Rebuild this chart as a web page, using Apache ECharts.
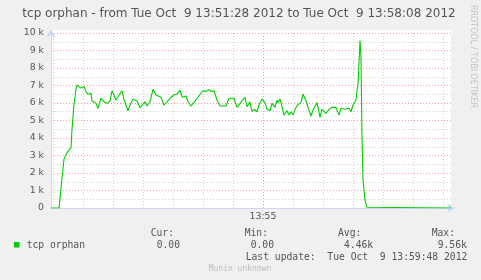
<!DOCTYPE html>
<html><head><meta charset="utf-8">
<script src="https://cdn.jsdelivr.net/npm/echarts@6/dist/echarts.min.js"></script>
<style>html,body{margin:0;padding:0;background:#F0F0F0;}#c{width:481px;height:280px;}</style>
</head><body><div id="c"></div>
<script>
// seconds after 13:51:28 (start of the graph window)
const secondsFromStart = [0,8,11,13,15,17,19,20,21,23,25,26,28,30,33,35,37,40,41,45,47,50,53,56,59,61,65,67,71,73,77,79,82,86,89,91,94,96,99,102,105,107,110,113,116,120,123,126,129,131,135,137,140,143,146,152,155,158,160,163,166,169,175,178,183,186,188,191,194,196,199,201,203,206,208,211,214,216,219,221,224,226,227,229,231,233,236,238,240,242,245,247,250,252,255,257,260,262,266,269,271,275,278,281,285,288,290,294,298,300,302,305,306,307,309,310,311,312,314,316,318,400];
const tcpOrphan = [0,0,1700,2800,3050,3240,3280,3450,4500,5900,6800,7020,6950,6850,6950,6650,6500,6550,6130,5980,5700,6270,6070,5980,6110,6700,6170,6360,6700,6210,5560,5880,6210,6110,5730,5880,6070,5830,6070,6780,6460,6550,6330,5880,6070,6330,6460,6510,6740,6330,6400,6070,5830,6030,6270,6700,6650,6780,6650,6700,6170,5830,5830,6270,6270,5750,5890,6130,6320,5790,6070,5500,5640,5500,5890,6230,6020,5640,5560,5980,5750,6170,6020,6230,5790,5310,5560,5310,5500,5310,5750,5890,6020,6510,6130,5750,5260,5600,6020,5180,5640,5410,5640,5750,5750,5310,5700,5640,5700,5500,5890,6170,6740,7030,9560,8650,4070,1600,460,40,0,0];
const yTicks = [0,1000,2000,3000,4000,5000,6000,7000,8000,9000,10000];
const xMinorTicks = [30,60,90,120,150,180,210,240,270,300,330,360,390,420]; // seconds after 13:51:00
const xMajorTicks = [240];
const xMajorLabels = ['13:55'];
const legendName = 'tcp orphan';
const statHeaders = ['Cur:','Min:','Avg:','Max:'];
const statValues = ['0.00','0.00','4.46k','9.56k'];
const titleText = 'tcp orphan - from Tue Oct  9 13:51:28 2012 to Tue Oct  9 13:58:08 2012';
const lastUpdate = 'Last update:  Tue Oct  9 13:59:48 2012';
const watermark = 'Munin unknown';
const sideText = 'RRDTOOL / TOBI OETIKER';

const START = 28; // 13:51:28 expressed as seconds after 13:51:00
const data = secondsFromStart.map((s,i)=>[START+s, tcpOrphan[i]]);

const chart = echarts.init(document.getElementById('c'), null, {renderer:'canvas'});
const FONT = 'DejaVu Sans';
const MONO = 'DejaVu Sans Mono';
const txtColor = '#555';
const statX = [150.7, 244.7, 338, 431.7];
const valX = [156.7, 250.7, 344, 437.7];
const graphics = [
  {type:'rect', shape:{x:51,y:30,width:401,height:4}, style:{fill:'#fff'}, z:-1},
  {type:'text', x:239, y:14, style:{text:titleText, font:'12px "'+FONT+'"', fill:txtColor, textAlign:'center', textVerticalAlign:'middle'}},
  {type:'text', x:473, y:5, rotation:-Math.PI/2, style:{text:sideText, font:'8px "'+FONT+'"', fill:'#c4c4c4', textAlign:'left', textVerticalAlign:'middle'}},
  {type:'rect', shape:{x:14,y:242,width:5.5,height:5.5}, style:{fill:'#00CC00'}},
  {type:'text', x:26.7, y:245, style:{text:legendName, font:'9.7px "'+MONO+'"', fill:txtColor, textVerticalAlign:'middle'}},
  {type:'text', x:245.7, y:257.3, style:{text:lastUpdate, font:'9.7px "'+MONO+'"', fill:txtColor, textVerticalAlign:'middle'}},
  {type:'text', x:208.7, y:269, style:{text:watermark, font:'8px "'+MONO+'"', fill:'#bdbdbd', textVerticalAlign:'middle'}}
];
statHeaders.forEach((h,i)=>{
  graphics.push({type:'text', x:statX[i], y:233.3, style:{text:h, font:'9.7px "'+MONO+'"', fill:txtColor, textVerticalAlign:'middle'}});
  graphics.push({type:'text', x:valX[i], y:245, style:{text:statValues[i], font:'9.7px "'+MONO+'"', fill:txtColor, textVerticalAlign:'middle'}});
});

chart.setOption({
  animation:false,
  backgroundColor:'#F0F0F0',
  grid:{left:51, top:33, width:400, height:175, show:true, backgroundColor:'#fff', borderWidth:0},
  xAxis:[
    {type:'value', min:START, max:START+400, gridIndex:0,
     axisLine:{show:true, lineStyle:{color:'#CFD6F8', width:1}, symbol:['none','arrow'], symbolSize:[7,8], symbolOffset:[0,4]},
     axisTick:{show:false, customValues:xMinorTicks},
     axisLabel:{show:false, customValues:xMinorTicks},
     splitLine:{show:true, lineStyle:{color:'#d0d0d0', type:[1,2], width:1}}},
    {type:'value', min:START, max:START+400, gridIndex:0, position:'bottom',
     axisLine:{show:false},
     axisTick:{show:false, customValues:xMajorTicks},
     axisLabel:{show:true, customValues:xMajorTicks, formatter:(v)=>xMajorLabels[xMajorTicks.indexOf(v)]||'', fontFamily:FONT, fontSize:9.3, color:txtColor, margin:4},
     splitLine:{show:true, lineStyle:{color:'#ff9a9a', type:[1,2], width:1}}}
  ],
  yAxis:{type:'value', min:0, max:10000, interval:1000,
    axisLine:{show:true, lineStyle:{color:'#CFD6F8', width:1}, symbol:['none','arrow'], symbolSize:[7,8], symbolOffset:[0,4]},
    axisTick:{show:false},
    axisLabel:{fontFamily:FONT, fontSize:9.3, color:txtColor, margin:7, formatter:(v)=> v===0?'0':(v/1000)+' k'},
    splitLine:{show:true, lineStyle:{color:'#ff9a9a', type:[1,2], width:1}},
    minorTick:{show:false, splitNumber:2},
    minorSplitLine:{show:true, lineStyle:{color:'#d0d0d0', type:[1,2], width:1}}
  },
  series:[{type:'line', name:legendName, data:data, xAxisIndex:0, showSymbol:false, smooth:false,
    lineStyle:{color:'#00CC00', width:1.1}, z:5}],
  graphic:graphics
});
</script></body></html>
